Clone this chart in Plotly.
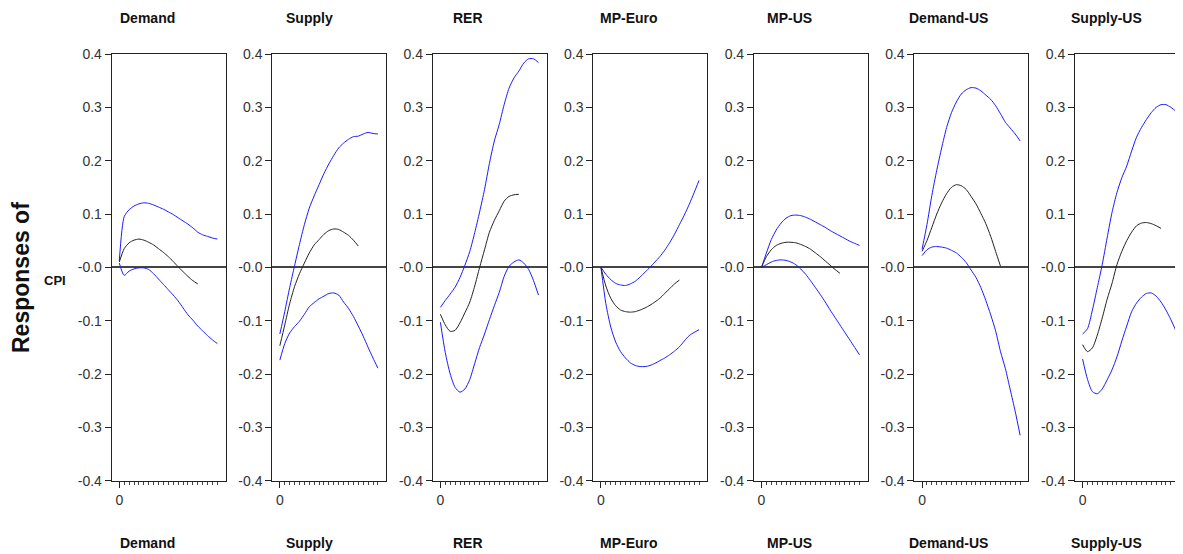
import plotly.graph_objects as go

# ---------------- data ----------------
shocks = ["Demand", "Supply", "RER", "MP-Euro", "MP-US", "Demand-US", "Supply-US"]
horizon_band = list(range(21))   # 0..20
horizon_mid = list(range(17))    # 0..16
y_tick_vals = [-0.4, -0.3, -0.2, -0.1, 0.0, 0.1, 0.2, 0.3, 0.4]
y_tick_text = ["-0.4", "-0.3", "-0.2", "-0.1", "-0.0", "0.1", "0.2", "0.3", "0.4"]

upper_demand = [0.012, 0.095, 0.108, 0.115, 0.119, 0.121, 0.120, 0.117, 0.113, 0.109, 0.104,
                0.099, 0.093, 0.087, 0.081, 0.074, 0.066, 0.061, 0.058, 0.055, 0.053]
median_demand = [0.010, 0.035, 0.046, 0.051, 0.053, 0.051, 0.047, 0.042, 0.035, 0.028, 0.020,
                 0.011, 0.001, -0.008, -0.017, -0.025, -0.031]
lower_demand = [0.008, -0.015, -0.007, -0.003, -0.001, -0.001, -0.004, -0.012, -0.022, -0.032, -0.042,
                -0.052, -0.063, -0.076, -0.089, -0.099, -0.110, -0.119, -0.128, -0.136, -0.143]

upper_supply = [-0.125, -0.083, -0.038, 0.003, 0.043, 0.080, 0.111, 0.134, 0.155, 0.176, 0.194,
                0.210, 0.224, 0.233, 0.240, 0.245, 0.246, 0.250, 0.253, 0.251, 0.250]
median_supply = [-0.147, -0.108, -0.068, -0.036, -0.012, 0.008, 0.027, 0.042, 0.052, 0.062, 0.069,
                 0.072, 0.071, 0.066, 0.060, 0.051, 0.040]
lower_supply = [-0.174, -0.143, -0.123, -0.111, -0.101, -0.088, -0.074, -0.066, -0.059, -0.054, -0.049,
                -0.048, -0.052, -0.065, -0.077, -0.092, -0.110, -0.129, -0.150, -0.170, -0.189]

upper_rer = [-0.075, -0.062, -0.050, -0.037, -0.019, 0.004, 0.030, 0.065, 0.104, 0.146, 0.195,
             0.237, 0.268, 0.305, 0.336, 0.355, 0.368, 0.383, 0.391, 0.391, 0.384]
median_rer = [-0.088, -0.108, -0.120, -0.118, -0.104, -0.085, -0.065, -0.035, 0.000, 0.033, 0.066,
              0.088, 0.106, 0.124, 0.133, 0.136, 0.137]
lower_rer = [-0.103, -0.160, -0.200, -0.225, -0.234, -0.228, -0.210, -0.180, -0.150, -0.125, -0.098,
             -0.072, -0.047, -0.017, 0.002, 0.010, 0.014, 0.008, -0.004, -0.025, -0.052]

upper_mp_euro = [0.000, -0.013, -0.023, -0.030, -0.033, -0.034, -0.031, -0.026, -0.018, -0.009, 0.000,
                 0.010, 0.020, 0.032, 0.046, 0.062, 0.080, 0.098, 0.118, 0.140, 0.163]
median_mp_euro = [0.000, -0.035, -0.058, -0.072, -0.080, -0.083, -0.084, -0.083, -0.080, -0.076, -0.071,
                  -0.065, -0.058, -0.049, -0.040, -0.031, -0.024]
lower_mp_euro = [0.000, -0.068, -0.112, -0.140, -0.158, -0.170, -0.179, -0.184, -0.186, -0.186, -0.184,
                 -0.180, -0.175, -0.170, -0.164, -0.157, -0.149, -0.138, -0.128, -0.122, -0.117]

upper_mp_us = [0.000, 0.027, 0.052, 0.070, 0.083, 0.092, 0.097, 0.098, 0.097, 0.094, 0.090,
               0.085, 0.080, 0.075, 0.069, 0.064, 0.059, 0.054, 0.049, 0.045, 0.041]
median_mp_us = [0.000, 0.020, 0.033, 0.041, 0.045, 0.047, 0.047, 0.046, 0.043, 0.039, 0.034,
                0.027, 0.020, 0.012, 0.004, -0.004, -0.011]
lower_mp_us = [0.000, 0.005, 0.010, 0.013, 0.014, 0.013, 0.010, 0.005, -0.003, -0.013, -0.025,
               -0.038, -0.051, -0.065, -0.080, -0.094, -0.108, -0.122, -0.136, -0.150, -0.164]

upper_demand_us = [0.034, 0.080, 0.135, 0.182, 0.224, 0.262, 0.290, 0.310, 0.325, 0.333, 0.337,
                   0.336, 0.331, 0.323, 0.315, 0.303, 0.288, 0.272, 0.261, 0.250, 0.237]
median_demand_us = [0.030, 0.050, 0.075, 0.100, 0.121, 0.138, 0.150, 0.155, 0.153, 0.146, 0.133,
                    0.119, 0.101, 0.082, 0.058, 0.030, 0.002]
lower_demand_us = [0.022, 0.033, 0.038, 0.039, 0.038, 0.036, 0.032, 0.027, 0.019, 0.009, -0.005,
                   -0.019, -0.038, -0.062, -0.089, -0.119, -0.158, -0.190, -0.230, -0.270, -0.315]

upper_supply_us = [-0.125, -0.115, -0.080, -0.038, 0.005, 0.055, 0.103, 0.140, 0.168, 0.190, 0.218,
                   0.244, 0.262, 0.277, 0.290, 0.300, 0.305, 0.305, 0.300, 0.293, 0.289]
median_supply_us = [-0.145, -0.158, -0.151, -0.127, -0.095, -0.060, -0.030, 0.005, 0.030, 0.050, 0.066,
                    0.078, 0.083, 0.084, 0.082, 0.078, 0.073]
lower_supply_us = [-0.172, -0.210, -0.233, -0.237, -0.228, -0.211, -0.192, -0.168, -0.138, -0.110, -0.083,
                   -0.067, -0.056, -0.049, -0.048, -0.054, -0.065, -0.080, -0.098, -0.118, -0.137]

uppers = [upper_demand, upper_supply, upper_rer, upper_mp_euro, upper_mp_us, upper_demand_us, upper_supply_us]
medians = [median_demand, median_supply, median_rer, median_mp_euro, median_mp_us, median_demand_us, median_supply_us]
lowers = [lower_demand, lower_supply, lower_rer, lower_mp_euro, lower_mp_us, lower_demand_us, lower_supply_us]

# ---------------- layout geometry (page pixels) ----------------
PAGE_W, PAGE_H = 1183, 554
OFF = 8                      # default body margin of the html page
W, H = PAGE_W - OFF, PAGE_H - OFF


def px_x(p):
    return (p - OFF) / W


def px_y(p):
    return 1 - (p - OFF) / H


panel_left0 = 111.7
panel_step = 160.55
panel_w = 114.0
plot_top, plot_bottom = 54.0, 480.7
x_lo, x_hi = -1.55, 21.7
title_cx = [147.5, 309, 468, 629, 789, 948, 1106]

tick_font = dict(family="Liberation Sans Narrow, Liberation Sans, Arial", size=14, color="#333333")
title_font = dict(family="Liberation Sans, Arial", size=14, color="#111111")

fig = go.Figure()
layout = dict(
    width=W, height=H,
    margin=dict(l=0, r=0, t=0, b=0, autoexpand=False),
    paper_bgcolor="white", plot_bgcolor="white",
    showlegend=False,
)

for i in range(7):
    sfx = "" if i == 0 else str(i + 1)
    xa, ya = "x" + sfx, "y" + sfx
    left = panel_left0 + i * panel_step
    right = min(left + panel_w, PAGE_W)
    units_per_px = (x_hi - x_lo) / panel_w
    xr_hi = x_lo + (right - left) * units_per_px
    last = (right < left + panel_w)

    for series, xs, col in ((uppers[i], horizon_band, "#1a1aff"),
                            (lowers[i], horizon_band, "#1a1aff"),
                            (medians[i], horizon_mid, "#222222")):
        fig.add_trace(go.Scatter(x=xs, y=series, mode="lines", xaxis=xa, yaxis=ya,
                                 line=dict(color=col, width=1, shape="spline", smoothing=0.7),
                                 hoverinfo="skip"))

    layout["xaxis" + sfx] = dict(
        domain=[px_x(left), min(px_x(right), 1.0)], anchor=ya, range=[x_lo, xr_hi],
        showline=True, linecolor="#222222", linewidth=1, mirror=True,
        showgrid=False, zeroline=False,
        ticks="outside", tickvals=[0], ticktext=["0"], ticklen=6, tickcolor="#222222",
        tickfont=tick_font,
        minor=dict(tickvals=list(range(1, 21)), ticks="outside", ticklen=3, tickcolor="#444444"),
        fixedrange=True,
    )
    layout["yaxis" + sfx] = dict(
        domain=[px_y(plot_bottom), px_y(plot_top)], anchor=xa, range=[-0.4, 0.4],
        showline=True, linecolor="#222222", linewidth=1, mirror=(not last),
        showgrid=False, zeroline=True, zerolinecolor="#444444", zerolinewidth=1.5,
        ticks="outside", tickvals=y_tick_vals, ticktext=y_tick_text, ticklen=6,
        tickcolor="#222222", tickfont=tick_font, fixedrange=True,
    )

annotations = []
for i, name in enumerate(shocks):
    for ypx in (18, 543):
        annotations.append(dict(text="<b>%s</b>" % name, x=px_x(title_cx[i]), y=px_y(ypx),
                                xref="paper", yref="paper", xanchor="center", yanchor="middle",
                                showarrow=False, font=title_font))
annotations.append(dict(text="<b>Responses of</b>", x=px_x(21), y=px_y(278), xref="paper", yref="paper",
                        xanchor="center", yanchor="middle", textangle=-90, showarrow=False,
                        font=dict(family="Liberation Sans, Arial", size=23, color="#111111")))
annotations.append(dict(text="<b>CPI</b>", x=px_x(55), y=px_y(280), xref="paper", yref="paper",
                        xanchor="center", yanchor="middle", showarrow=False,
                        font=dict(family="Liberation Sans Narrow, Liberation Sans, Arial", size=13, color="#111111")))
layout["annotations"] = annotations

fig.update_layout(**layout)
fig.write_html("out.html")
